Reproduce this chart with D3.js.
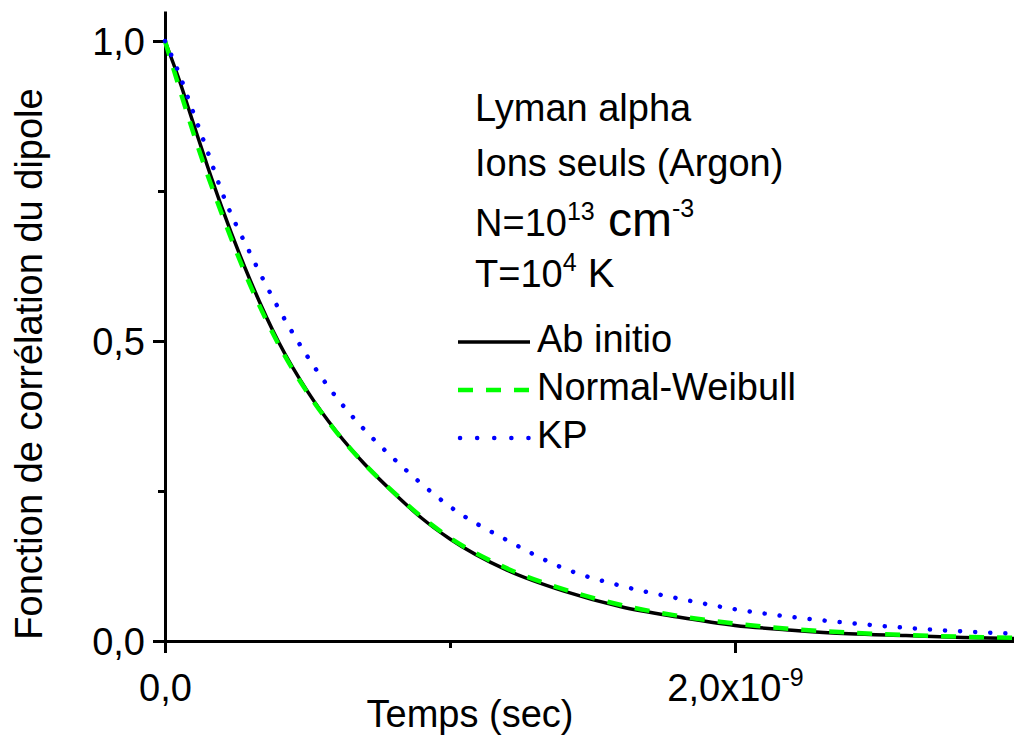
<!DOCTYPE html>
<meta charset="utf-8">
<html>
  <head>
    <style>
      body { margin: 0; background: #fff; }
      svg text { font-family: "Liberation Sans", Arial, sans-serif; fill: #000; }
      .axis path, .axis line { stroke: #000; stroke-width: 3px; }
    </style>
    <script src="https://d3js.org/d3.v7.min.js"></script>
  </head>
  <body>
    <script>

      // data (time in seconds)
      var times = [0, 0.05e-9, 0.1e-9, 0.15e-9, 0.2e-9, 0.3e-9, 0.4e-9, 0.5e-9, 0.6e-9, 0.7e-9, 0.8e-9, 0.9e-9,
                   1.0e-9, 1.2e-9, 1.4e-9, 1.6e-9, 1.8e-9, 2.0e-9, 2.2e-9, 2.4e-9, 2.6e-9, 2.8e-9, 3.0e-9];
      var abInitio = [1.0, 0.935, 0.862, 0.79, 0.722, 0.600, 0.497, 0.416, 0.350, 0.295, 0.248, 0.205,
                      0.170, 0.118, 0.083, 0.057, 0.040, 0.026, 0.018, 0.012, 0.009, 0.006, 0.004];
      var normalWeibull = [1.0, 0.922, 0.846, 0.776, 0.711, 0.592, 0.493, 0.414, 0.349, 0.295, 0.249, 0.207,
                           0.172, 0.121, 0.086, 0.060, 0.042, 0.029, 0.020, 0.014, 0.010, 0.007, 0.005];
      var kp = [1.0, 0.945, 0.88, 0.815, 0.748, 0.645, 0.553, 0.474, 0.407, 0.352, 0.305, 0.262,
                0.224, 0.168, 0.121, 0.092, 0.071, 0.053, 0.040, 0.030, 0.022, 0.016, 0.012];

      var seriesNames = ["Ab initio", "Normal-Weibull", "KP"];
      var xMajor = [0, 2e-9], xMinor = [1e-9, 3e-9];
      var yMajor = [0, 0.5, 1.0], yMinor = [0.25, 0.75];

      var width = 1014, height = 735;

      var svg = d3.select("body").append("svg")
          .attr("width", width)
          .attr("height", height);

      var x = d3.scaleLinear().domain([0, 3e-9]).range([165, 1020]);
      var y = d3.scaleLinear().domain([0, 1.05]).range([641, 11]);

      var comma = function(d) { return d3.format(".1f")(d).replace(".", ","); };

      // axes
      var gx = svg.append("g").attr("class", "axis")
          .attr("transform", "translate(0," + y(0) + ")")
          .call(d3.axisBottom(x).tickValues(xMajor).tickSize(12).tickSizeOuter(0).tickPadding(12)
                .tickFormat(function(d) { return d === 0 ? "0,0" : "2,0x10"; }));
      gx.selectAll(".tick text")
          .style("font-size", "38px")
          .attr("dy", "0.95em")
          .filter(function(d) { return d > 0; })
          .append("tspan")
          .attr("dy", -15)
          .style("font-size", "25px")
          .text("-9");
      gx.append("g")
          .call(d3.axisBottom(x).tickValues(xMinor).tickSize(7).tickFormat(""))
          .select(".domain").remove();

      var gy = svg.append("g").attr("class", "axis")
          .attr("transform", "translate(" + x(0) + ",0)")
          .call(d3.axisLeft(y).tickValues(yMajor).tickSize(12).tickSizeOuter(0).tickPadding(8)
                .tickFormat(comma));
      gy.selectAll(".tick text")
          .style("font-size", "38px")
          .attr("dy", "0.36em");
      gy.append("g")
          .call(d3.axisLeft(y).tickValues(yMinor).tickSize(7).tickFormat(""))
          .select(".domain").remove();

      // axis titles
      svg.append("text")
          .attr("x", 470)
          .attr("y", 727)
          .attr("text-anchor", "middle")
          .style("font-size", "38px")
          .text("Temps (sec)");

      svg.append("text")
          .attr("transform", "translate(42,364)rotate(-90)")
          .attr("text-anchor", "middle")
          .style("font-size", "38px")
          .text("Fonction de corrélation du dipole");

      // curves
      var styles = [
        { color: "#000000", width: 3.5, dash: null, cap: "butt" },
        { color: "#00ff00", width: 4.5, dash: "15,13", cap: "butt" },
        { color: "#0000ff", width: 4.5, dash: "0.1,15", cap: "round" }
      ];
      var allSeries = [abInitio, normalWeibull, kp];

      var line = d3.line()
          .x(function(d, i) { return x(times[i]); })
          .y(function(d) { return y(d); })
          .curve(d3.curveMonotoneX);

      allSeries.forEach(function(s, i) {
        svg.append("path")
            .datum(s)
            .attr("d", line)
            .attr("fill", "none")
            .attr("stroke", styles[i].color)
            .attr("stroke-width", styles[i].width)
            .attr("stroke-linecap", styles[i].cap)
            .attr("stroke-dasharray", styles[i].dash);
      });

      // annotation
      var ann = svg.append("g").style("font-size", "38px");
      ann.append("text").attr("x", 475).attr("y", 121).text("Lyman alpha");
      ann.append("text").attr("x", 475).attr("y", 176).text("Ions seuls (Argon)");

      var tN = ann.append("text").attr("x", 475).attr("y", 236);
      tN.append("tspan").text("N=10");
      tN.append("tspan").attr("dy", -16).style("font-size", "25px").text("13");
      tN.append("tspan").attr("dy", 16).style("font-size", "48px").text(" cm");
      tN.append("tspan").attr("dy", -19).style("font-size", "25px").text("-3");

      var tT = ann.append("text").attr("x", 475).attr("y", 287);
      tT.append("tspan").text("T=10");
      tT.append("tspan").attr("dy", -16).style("font-size", "25px").text("4");
      tT.append("tspan").attr("dy", 16).style("font-size", "40px").text(" K");

      // legend
      var legend = svg.append("g");
      seriesNames.forEach(function(name, i) {
        var ly = 342 + i * 48;
        legend.append("line")
            .attr("x1", i === 2 ? 460 : 458)
            .attr("x2", 530)
            .attr("y1", ly).attr("y2", ly)
            .attr("stroke", styles[i].color)
            .attr("stroke-width", styles[i].width)
            .attr("stroke-linecap", styles[i].cap)
            .attr("stroke-dasharray", i === 2 ? "0.1,17" : styles[i].dash);
        legend.append("text")
            .attr("x", 537)
            .attr("y", ly + 10)
            .style("font-size", "38px")
            .text(name);
      });

    </script>
  </body>
</html>
